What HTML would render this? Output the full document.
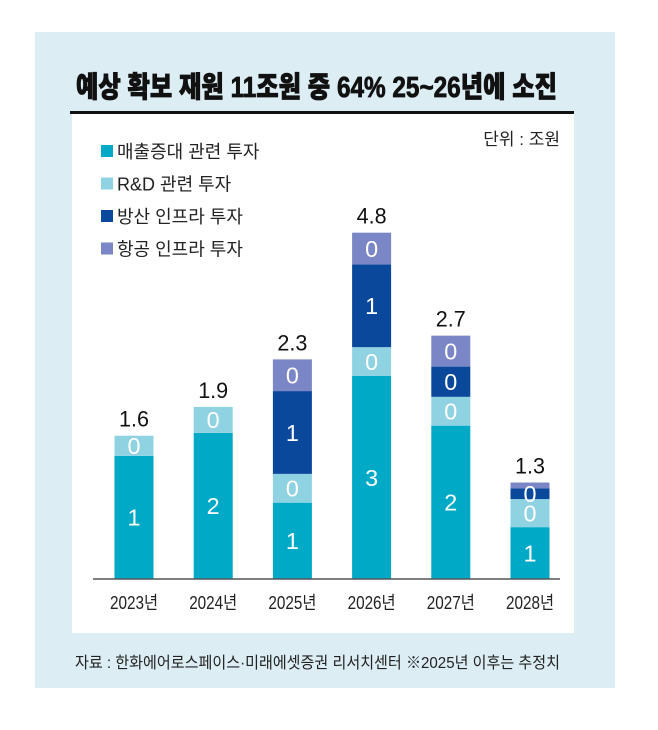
<!DOCTYPE html>
<html><head><meta charset="utf-8"><style>
html,body{margin:0;padding:0;background:#fff;}
svg{display:block;font-family:"Liberation Sans","Noto Sans CJK KR",sans-serif;}
</style></head><body>
<svg id="chart" width="658" height="730" viewBox="0 0 658 730">
<rect x="35" y="32" width="580" height="656" fill="#dcedf4"/>
<rect x="72" y="114" width="502" height="519" fill="#ffffff"/>
<text x="76" y="97" font-size="29" font-weight="900" fill="#111" stroke="#111" stroke-width="0.8" textLength="481" lengthAdjust="spacingAndGlyphs">예상 확보 재원 11조원 중 64% 25~26년에 소진</text>
<rect x="70" y="111" width="504" height="3" fill="#111"/>
<text x="560" y="145" font-size="17" text-anchor="end" fill="#222">단위 :  조원</text>
<g id="legend"></g>
<g id="bars"></g>
<line x1="93" y1="579" x2="560" y2="579" stroke="#555" stroke-width="1.5"/>
<g id="xlabels"></g>
<text x="75" y="668" font-size="16" fill="#222" textLength="485" lengthAdjust="spacingAndGlyphs">자료 : 한화에어로스페이스·미래에셋증권 리서치센터 ※2025년 이후는 추정치</text>
</svg>
<script>
const categories = ["2023년","2024년","2025년","2026년","2027년","2028년"];
const seriesNames = ["매출증대 관련 투자","R&D 관련 투자","방산 인프라 투자","항공 인프라 투자"];
const salesGrowth = [1.71, 2.03, 1.06, 2.82, 2.13, 0.72];
const rnd = [0.28, 0.36, 0.40, 0.40, 0.40, 0.39];
const defense = [0, 0, 1.15, 1.15, 0.42, 0.15];
const aero = [0, 0, 0.44, 0.44, 0.43, 0.08];
const segLabels = [["1","0","",""],["2","0","",""],["1","0","1","0"],["3","0","1","0"],["2","0","0","0"],["1","0","0",""]];
const totals = ["1.6","1.9","2.3","4.8","2.7","1.3"];
const colors = ["#00a9c6","#8fd3e3","#0a489c","#7a86c5"];
const NS = "http://www.w3.org/2000/svg";
const baseY = 579, pxPerUnit = 72, barW = 39;
const xCenter = i => 134 + i * 79.2;
const yScale = v => baseY - v * pxPerUnit;
function mk(tag, attrs){const e=document.createElementNS(NS,tag);for(const k in attrs)e.setAttribute(k,attrs[k]);return e;}
const barsG = document.getElementById("bars");
const labelsG = mk("g",{});
const series = [salesGrowth, rnd, defense, aero];
categories.forEach((c,i)=>{
  let cum = 0;
  series.forEach((s,k)=>{
    const v = s[i];
    if (v <= 0) return;
    const y0 = yScale(cum), y1 = yScale(cum + v);
    const r = mk("rect",{x:xCenter(i)-barW/2,y:y1,width:barW,height:y0-y1,fill:colors[k]});
    
    
    barsG.appendChild(r);
    if (segLabels[i][k] !== "") {
      const fs = 23;
      const t = mk("text",{x:xCenter(i),y:(y0+y1)/2+fs*0.36,"font-size":fs,"text-anchor":"middle",fill:"#fff",textLength:13,lengthAdjust:"spacingAndGlyphs"});
      t.textContent = segLabels[i][k];
      
      
      labelsG.appendChild(t);
    }
    cum += v;
  });
  const tt = mk("text",{x:xCenter(i),y:yScale(cum)-9,"font-size":22,"text-anchor":"middle",fill:"#111",textLength:30,lengthAdjust:"spacingAndGlyphs"});
  tt.textContent = totals[i];
  
  
  labelsG.appendChild(tt);
  const xl = mk("text",{x:xCenter(i),y:609,"font-size":18,"text-anchor":"middle",fill:"#222",textLength:48,lengthAdjust:"spacingAndGlyphs"});
  xl.textContent = c;
  
  
  document.getElementById("xlabels").appendChild(xl);
});
barsG.appendChild(labelsG);
const lg = document.getElementById("legend");
seriesNames.forEach((n,k)=>{
  const y = 152 + k*32.5;
  const sq = mk("rect",{x:101,y:y-7,width:12,height:12,fill:colors[k]});
  
  
  lg.appendChild(sq);
  const t = mk("text",{x:117,y:y+6,"font-size":18,fill:"#222"});
  t.textContent = n;
  
  
  lg.appendChild(t);
});
</script>
</body></html>
